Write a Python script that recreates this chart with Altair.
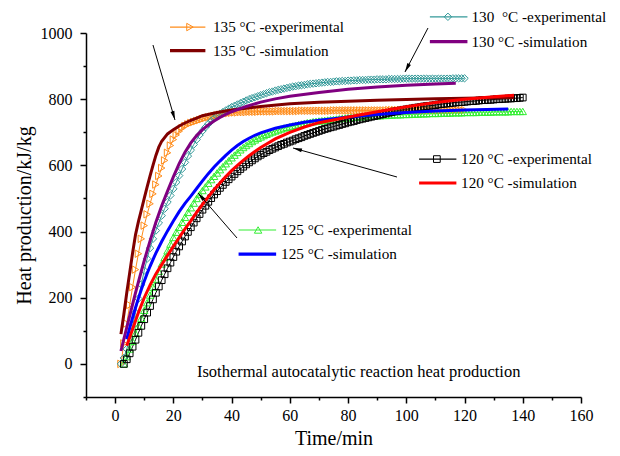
import math
import altair as alt
import pandas as pd

W, H = 495, 364
XDOM = [-10, 160]
YDOM = [-100, 1000]
FONT = "Liberation Serif"

# ---------------- experimental data (about 1 point per minute) ----------------
h135e = [0, 62, 122, 178, 232, 285, 333, 378, 418, 452,
         484, 514, 542, 568, 592, 615, 638, 660, 678, 692,
         703, 712, 719, 724, 728, 731, 734, 737, 740, 743,
         745, 747, 749, 751, 753, 755, 757, 758, 759,
         760, 760, 761, 761, 761, 762, 762, 762, 762, 763,
         763, 763, 763, 763, 763, 764, 764, 764, 764, 764,
         764, 764, 764, 765, 765, 765, 765, 765, 765, 765,
         765, 765, 765, 765, 766, 766, 766, 766, 766, 766,
         766, 766, 766, 766, 766, 766, 766, 766, 766, 766,
         766, 766, 766, 767, 767, 767, 767, 767, 767, 767,
         767, 767, 767, 767, 767, 767, 767, 767, 767, 767,
         767, 767, 767, 767, 767, 767, 767, 767, 767, 767]
t135e = list(range(2, 2 + len(h135e)))

h130e = [0, 18, 45, 78, 115, 155, 197, 240, 282, 318,
         350, 378, 403, 426, 448, 469, 489, 509, 529, 549,
         569, 589, 609, 628, 646, 663, 678, 692, 704, 715,
         725, 734, 742, 749, 755, 761, 766, 771, 776,
         780, 784, 788, 792, 796, 800, 803, 806, 809, 812,
         815, 818, 821, 823, 826, 828, 830, 832, 834, 836,
         838, 839, 841, 842, 843, 845, 846, 847, 848, 849,
         850, 851, 852, 852, 853, 854, 854, 855, 855, 856,
         856, 857, 857, 858, 858, 858, 859, 859, 859, 860,
         860, 860, 860, 861, 861, 861, 861, 861, 862, 862,
         862, 862, 862, 862, 862, 862, 862, 862, 862, 862,
         862, 862, 862, 862, 862, 863, 863, 863, 863, 863]
t130e = list(range(2, 2 + len(h130e)))

h125e = [0, 22, 45, 68, 92, 114, 138, 162, 185, 208,
         232, 256, 280, 302, 322, 342, 362, 382, 398, 413,
         428, 443, 458, 472, 486, 500, 512, 524, 535, 546,
         557, 567, 577, 587, 596, 605, 614, 623,
         631, 639, 647, 654, 660, 666, 672, 677, 682, 686,
         690, 694, 698, 701, 704, 707, 710, 713, 715, 717,
         719, 721, 723, 725, 727, 729, 730, 732, 733, 734,
         735, 736, 737, 738, 739, 740, 741, 742, 743, 744,
         745, 745, 746, 747, 747, 748, 748, 749, 749, 750,
         750, 751, 751, 752, 752, 753, 753, 753, 754, 754,
         754, 755, 755, 755, 756, 756, 756, 757, 757, 757,
         757, 758, 758, 758, 758, 759, 759, 759, 759, 760,
         760, 760, 760, 760, 761, 761, 761, 761, 761, 762,
         762, 762, 762, 762, 762, 763, 763, 763, 763, 763]
t125e = list(range(3, 3 + len(h125e)))

h120e = [0, 14, 32, 52, 73, 94, 115, 135, 155, 175,
         195, 215, 234, 253, 271, 289, 306, 323, 339, 355,
         370, 385, 399, 413, 427, 440, 453, 466, 478, 490,
         501, 512, 522, 532, 541, 550, 558, 566,
         574, 582, 589, 596, 603, 609, 615, 621, 627, 632,
         637, 641, 646, 650, 654, 658, 662, 665, 669, 672,
         675, 679, 682, 685, 689, 692, 695, 698, 701, 704,
         707, 710, 712, 715, 717, 720, 722, 725, 727, 730,
         732, 734, 737, 739, 741, 743, 745, 747, 749, 751,
         753, 755, 757, 759, 761, 763, 764, 766, 768, 769,
         771, 772, 774, 775, 776, 778, 779, 780, 781, 782,
         784, 785, 786, 787, 788, 789, 790, 791, 791, 792,
         793, 794, 794, 795, 796, 797, 797, 798, 798, 799,
         800, 800, 801, 801, 802, 802, 803, 803, 804, 805]
t120e = list(range(3, 3 + len(h120e)))

# ---------------- simulation curves ----------------
t135s = [2, 3, 4, 5, 6, 7, 8, 9, 10, 11, 12, 13, 14, 15, 16, 18, 20, 22, 24, 26,
         28, 30, 35, 40, 50, 60, 70, 80, 90, 100, 110, 120, 130, 137]
h135s = [90, 150, 215, 275, 335, 390, 430, 465, 500, 535, 568, 600, 630, 655, 673, 695, 708, 719, 728, 736,
         743, 750, 760, 767, 778, 786, 791, 794, 797, 799, 801, 803, 804, 805]

t130s = [2, 3, 4, 5, 6, 7, 8, 9, 10, 12, 14, 16, 18, 20, 22, 24, 26, 28, 30, 32,
         34, 36, 38, 40, 45, 50, 55, 60, 70, 80, 90, 100, 110, 117]
h130s = [39, 75, 110, 145, 180, 215, 248, 280, 312, 372, 428, 478, 522, 565, 605, 640, 668, 690, 708, 722,
         734, 745, 754, 762, 778, 791, 801, 809, 820, 830, 837, 842, 846, 848]

t125s = [4, 5, 6, 7, 8, 9, 10, 11, 12, 13, 14, 16, 18, 20, 22, 24, 26, 28, 30, 32,
         34, 36, 38, 40, 42, 44, 46, 48, 50, 55, 60, 65, 70, 75, 80, 90, 100, 110, 120, 135]
h125s = [75, 108, 140, 170, 198, 225, 250, 273, 295, 315, 335, 370, 402, 432, 460, 485, 507, 530, 553, 575,
         595, 613, 630, 646, 660, 672, 682, 691, 698, 712, 722, 730, 736, 741, 746, 754, 760, 764, 767, 770]

t120s = [4, 6, 8, 10, 12, 14, 16, 18, 20, 22, 24, 26, 28, 30, 32, 34, 36, 38, 40, 42,
         44, 46, 48, 50, 55, 60, 65, 70, 75, 80, 90, 100, 110, 120, 130, 137]
h120s = [55, 105, 155, 200, 238, 272, 300, 328, 355, 382, 408, 432, 458, 482, 505, 527, 547, 566, 584, 600,
         615, 629, 642, 654, 680, 700, 716, 729, 737, 746, 762, 777, 790, 800, 807, 812]

# ---------------- labels / annotation positions (data units) ----------------
exp_labels = ["135 °C -experimental", "130\u00a0 °C -experimental",
              "125 °C -experimental", "120 °C -experimental"]
sim_labels = ["135 °C -simulation", "130 °C -simulation",
              "125 °C -simulation", "120 °C -simulation"]
exp_colors = ["#FF8C1A", "#339999", "#33EE33", "#000000"]
sim_colors = ["#800000", "#800080", "#0000FF", "#FF0000"]
exp_shapes = ["triangle-right", "diamond", "triangle-up", "square"]
exp_sizes = [55, 55, 55, 45]

# legend entries for 135, 130, 125, 120
leg_exp_y = [1018, 1049, 404.7, 619]
leg_sim_y = [946.5, 973.7, 332, 546.7]
leg_line_x1 = [18.85, 108.1, 42.4, 104.4]
leg_line_x2 = [31.0, 121.0, 55.3, 117.2]
leg_mark_x = [25.7, 114.3, 49.1, 110.5]
leg_text_x = [33.6, 122.4, 57.0, 118.8]

arr_x1 = [13.0, 107.45, 96.8, 41.86]
arr_y1 = [963.7, 1015.1, 564.8, 380.5]
arr_x2 = [20.56, 99.55, 61.1, 28.46]
arr_y2 = [737.1, 882.1, 652.5, 516.5]

note_text = "Isothermal autocatalytic reaction heat production"
note_x, note_y = 28.1, -24.5

# ---------------- build tables ----------------
exp_sets = [(t135e, h135e), (t130e, h130e), (t125e, h125e), (t120e, h120e)]
sim_sets = [(t135s, h135s), (t130s, h130s), (t125s, h125s), (t120s, h120s)]

exp_rows = []
for i, (ts, hs) in enumerate(exp_sets):
    for t, h in zip(ts, hs):
        exp_rows.append({"t": t, "h": h, "series": exp_labels[i], "col": exp_colors[i],
                         "shp": exp_shapes[i], "sz": exp_sizes[i]})
exp_df = pd.DataFrame(exp_rows)

sim_rows = []
for i, (ts, hs) in enumerate(sim_sets):
    for t, h in zip(ts, hs):
        sim_rows.append({"t": t, "h": h, "series": sim_labels[i], "col": sim_colors[i]})
sim_df = pd.DataFrame(sim_rows)

leg_lines = []
for i in range(4):
    leg_lines.append({"t": leg_line_x1[i], "t2": leg_line_x2[i], "h": leg_exp_y[i],
                      "col": exp_colors[i], "w": 1.2})
    leg_lines.append({"t": leg_line_x1[i], "t2": leg_line_x2[i], "h": leg_sim_y[i],
                      "col": sim_colors[i], "w": 3.2})
leg_lines_df = pd.DataFrame(leg_lines)

leg_marks_df = pd.DataFrame({"t": leg_mark_x, "h": leg_exp_y, "col": exp_colors,
                             "shp": exp_shapes, "sz": exp_sizes})

leg_text_df = pd.DataFrame({
    "t": leg_text_x + leg_text_x,
    "h": leg_exp_y + leg_sim_y,
    "label": exp_labels + sim_labels,
})

kx = W / (XDOM[1] - XDOM[0])
ky = H / (YDOM[1] - YDOM[0])
heads = []
for x1, y1, x2, y2 in zip(arr_x1, arr_y1, arr_x2, arr_y2):
    dxp = (x2 - x1) * kx
    dyp = -(y2 - y1) * ky
    L = math.hypot(dxp, dyp)
    ux, uy = dxp / L, dyp / L
    ang = math.degrees(math.atan2(ux, -uy)) % 360
    heads.append({"t": x2 - 4.5 * ux / kx, "h": y2 + 4.5 * uy / ky, "ang": ang})
heads_df = pd.DataFrame(heads)
arrows_df = pd.DataFrame({"t": arr_x1, "h": arr_y1, "t2": arr_x2, "h2": arr_y2})

note_df = pd.DataFrame({"t": [note_x], "h": [note_y], "label": [note_text]})
minor_df = pd.DataFrame({"t": [0], "h": [0]})

# ---------------- encodings ----------------
xs = alt.Scale(domain=XDOM, nice=False, zero=False)
ys = alt.Scale(domain=YDOM, nice=False, zero=False)

common_axis = dict(grid=False, tickWidth=1.5, tickColor="black", labelFont=FONT,
                   titleFont=FONT, labelColor="black", titleColor="black",
                   labelFlush=False, labelOverlap=False)

x_axis_main = alt.Axis(values=list(range(0, 161, 20)), orient="bottom", title="Time/min",
                       format="d", tickSize=6, domainWidth=1.5, domainColor="black",
                       labelFontSize=16, labelPadding=4, titleFontSize=20,
                       titleFontWeight="normal", titlePadding=5, **common_axis)
y_axis_main = alt.Axis(values=list(range(0, 1001, 200)), orient="left",
                       title="Heat production/kJ/kg", format="d", tickSize=6,
                       domainWidth=1.5, domainColor="black", labelFontSize=16,
                       labelPadding=8, titleFontSize=20, titleFontWeight="normal",
                       titlePadding=6, **common_axis)
x_axis_minor = alt.Axis(values=list(range(-10, 160, 20)), orient="bottom", labels=False,
                        domain=False, tickSize=3, title=None, **common_axis)
y_axis_minor = alt.Axis(values=list(range(-100, 1000, 200)), orient="left", labels=False,
                        domain=False, tickSize=3, title=None, **common_axis)


def X(field="t"):
    return alt.X(f"{field}:Q", scale=xs, axis=None)


def Y(field="h"):
    return alt.Y(f"{field}:Q", scale=ys, axis=None)


base_axes = alt.Chart(minor_df).mark_point(opacity=0).encode(
    x=alt.X("t:Q", scale=xs, axis=x_axis_main),
    y=alt.Y("h:Q", scale=ys, axis=y_axis_main),
)
minor_axes = alt.Chart(minor_df).mark_point(opacity=0).encode(
    x=alt.X("t:Q", scale=xs, axis=x_axis_minor),
    y=alt.Y("h:Q", scale=ys, axis=y_axis_minor),
)

exp_lines = alt.Chart(exp_df).mark_line(strokeWidth=1).encode(
    x=X(), y=Y(),
    color=alt.Color("col:N", scale=None),
    detail="series:N",
    order="t:Q",
)
exp_points = alt.Chart(exp_df).mark_point(filled=False, strokeWidth=1, opacity=1).encode(
    x=X(), y=Y(),
    color=alt.Color("col:N", scale=None),
    shape=alt.Shape("shp:N", scale=None),
    size=alt.Size("sz:Q", scale=None),
)
sim_lines = alt.Chart(sim_df).mark_line(strokeWidth=3).encode(
    x=X(), y=Y(),
    color=alt.Color("col:N", scale=None),
    detail="series:N",
    order="t:Q",
)

leg_line_layer = alt.Chart(leg_lines_df).mark_rule().encode(
    x=X(), x2="t2:Q", y=Y(),
    color=alt.Color("col:N", scale=None),
    strokeWidth=alt.StrokeWidth("w:Q", scale=None),
)
leg_mark_layer = alt.Chart(leg_marks_df).mark_point(filled=False, strokeWidth=1, opacity=1).encode(
    x=X(), y=Y(),
    color=alt.Color("col:N", scale=None),
    shape=alt.Shape("shp:N", scale=None),
    size=alt.Size("sz:Q", scale=None),
)
leg_text_layer = alt.Chart(leg_text_df).mark_text(
    align="left", baseline="middle", font=FONT, fontSize=15.2, color="black"
).encode(x=X(), y=Y(), text="label:N")

arrow_layer = alt.Chart(arrows_df).mark_rule(color="black", strokeWidth=1).encode(
    x=X(), x2="t2:Q", y=Y(), y2="h2:Q"
)
head_layer = alt.Chart(heads_df).mark_point(
    shape="M0,-1L0.45,1L-0.45,1Z", filled=True, color="black", size=81, opacity=1
).encode(x=X(), y=Y(), angle=alt.Angle("ang:Q", scale=None))

note_layer = alt.Chart(note_df).mark_text(
    align="left", baseline="middle", font=FONT, fontSize=16.5, color="black"
).encode(x=X(), y=Y(), text="label:N")

chart = alt.layer(
    base_axes, minor_axes, exp_lines, exp_points, sim_lines,
    leg_line_layer, leg_mark_layer, leg_text_layer, arrow_layer, head_layer, note_layer,
).resolve_axis(x="independent", y="independent").properties(
    width=W, height=H, autosize="none", background="white",
    padding={"left": 78, "top": 25, "right": 31, "bottom": 56},
).configure_view(strokeWidth=0)

chart.save("out.html", embed_options={"renderer": "svg", "actions": False})
